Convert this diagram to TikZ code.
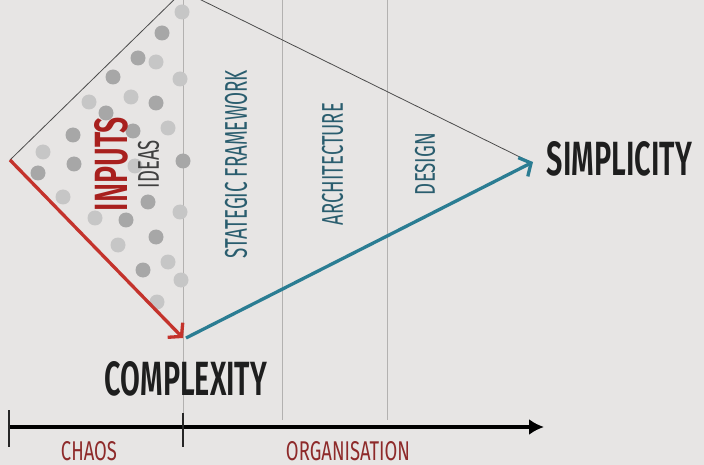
\documentclass[tikz,border=0pt]{standalone}
\usepackage{fontspec}
\setmainfont{Fira Sans}
\newfontfamily\boldf{Fira Sans}[UprightFont=* SemiBold]
\usetikzlibrary{arrows.meta}
\definecolor{bg}{HTML}{E7E5E4}
\definecolor{redarr}{HTML}{C4332C}
\definecolor{redtxt}{HTML}{A8201E}
\definecolor{teal}{HTML}{2B7D93}
\definecolor{tealtxt}{HTML}{2A5D6E}
\definecolor{darktxt}{HTML}{1E1E1E}
\definecolor{labred}{HTML}{8E2A2A}
\definecolor{dotdark}{HTML}{A7A7A7}
\definecolor{dotlight}{HTML}{C6C6C6}
\definecolor{guide}{HTML}{B3B1B0}
\begin{document}
\begin{tikzpicture}[x=1pt,y=-1pt,
  guideline/.style={draw=guide,line width=0.9pt},
  outline/.style={draw=black!70,line width=0.8pt},
  dd/.style={fill=dotdark},
  dl/.style={fill=dotlight},
  txt/.style={inner sep=0pt,outer sep=0pt},
  vtxt/.style={inner sep=0pt,outer sep=0pt,rotate=90},
  barb/.style={line width=3.3pt,-{Straight Barb[length=9pt,width=21pt,line width=3.3pt]}}]
\fill[bg] (0,0) rectangle (704,465);
\useasboundingbox (0,0) rectangle (704,465);
\clip (0,0) rectangle (704,465);
% coordinates
\coordinate (L) at (10,160);
\coordinate (T) at (183,-9);
\coordinate (R) at (530,162);
\coordinate (B) at (183,338);
\coordinate (Bs) at (186,338);
\coordinate (Rs) at (533,162);
% guides
\coordinate (g1t) at (183,0); \coordinate (g1b) at (183,413);
\coordinate (g2t) at (282,0); \coordinate (g2b) at (282,420);
\coordinate (g3t) at (387,0); \coordinate (g3b) at (387,420);
\draw[guideline] (g1t) -- (g1b);
\draw[guideline] (g2t) -- (g2b);
\draw[guideline] (g3t) -- (g3b);
% dots
\foreach \x/\y in {162/33,138/58,113/77,156/103,106/113,133/131,73/135,183/161,74/164,38/173,148/202,126/220,156/237,143/270}
  \fill[dd] (\x,\y) circle (7.5);
\foreach \x/\y in {182/12,156/62,180/79,131/97,89/102,168/128,43/152,135/166,63/197,180/212,95/218,118/245,168/262,181/280,157/302}
  \fill[dl] (\x,\y) circle (7.5);
% diamond outline
\draw[outline] (L) -- (T) -- (R);
% texts
\node[vtxt,text=redtxt] (inputs) at (111.5,164) {\resizebox{94pt}{33pt}{\boldf INPUTS}};
\node[vtxt,text=black!75] (ideas) at (148.5,164) {\resizebox{48pt}{21pt}{IDEAS}};
\node[vtxt,text=tealtxt] (strat) at (236,164) {\resizebox{188pt}{22pt}{STATEGIC FRAMEWORK}};
\node[vtxt,text=tealtxt] (arch) at (332.5,164) {\resizebox{122pt}{21pt}{ARCHITECTURE}};
\node[vtxt,text=tealtxt] (design) at (425,164) {\resizebox{62pt}{20pt}{DESIGN}};
\node[txt,text=darktxt] (simp) at (619.5,159) {\resizebox{145pt}{34pt}{\boldf SIMPLICITY}};
\node[txt,text=darktxt] (comp) at (186,379) {\resizebox{162pt}{34pt}{\boldf COMPLEXITY}};
\node[txt,text=labred,anchor=north] (chaos) at (89,441) {\resizebox{56pt}{19pt}{CHAOS}};
\node[txt,text=labred,anchor=north] (org) at (348,441) {\resizebox{124pt}{19pt}{ORGANISATION}};
% arrows
\draw[redarr,barb] (L) -- (B);
\draw[teal,barb] (Bs) -- (Rs);
% axis
\coordinate (a0) at (9,427);
\coordinate (a1) at (544,427);
\draw[black,line width=3.5pt,-{Latex[length=15pt,width=16pt]}] (a0) -- (a1);
\coordinate (t1a) at (9,410); \coordinate (t1b) at (9,447);
\coordinate (t2a) at (183,413); \coordinate (t2b) at (183,447);
\draw[line width=2.5pt,black!85] (t1a) -- (t1b);
\draw[line width=2.5pt,black!85] (t2a) -- (t2b);
\end{tikzpicture}
\end{document}
